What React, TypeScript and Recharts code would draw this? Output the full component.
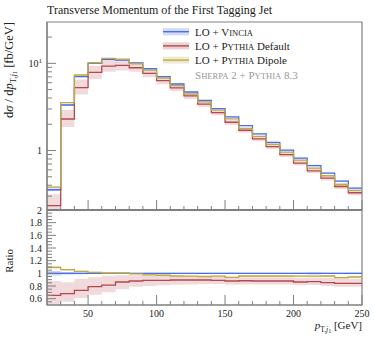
import { ComposedChart, Line, Area, XAxis, YAxis, ReferenceArea } from "recharts";

// bins of 10 GeV, lower edges; last bin closes at 250
const binLow = [20, 30, 40, 50, 60, 70, 80, 90, 100, 110, 120, 130, 140, 150, 160, 170, 180, 190, 200, 210, 220, 230, 240];
const xMax = 250;

// dσ/dpT [fb/GeV]
const vincia = [0.355, 3.33, 7.03, 10.0, 11.1, 10.9, 10.15, 8.67, 7.03, 5.8, 4.69, 3.77, 3.02, 2.43, 1.93, 1.55, 1.24, 1.01, 0.819, 0.673, 0.551, 0.447, 0.371];
const pythiaDefault = [0.233, 2.3, 5.26, 7.89, 9.3, 9.5, 8.9, 7.68, 6.32, 5.22, 4.23, 3.4, 2.72, 2.11, 1.71, 1.36, 1.11, 0.9, 0.718, 0.586, 0.483, 0.387, 0.328];
const pythiaDipole = [0.381, 3.54, 7.35, 10.16, 11.4, 11.2, 9.9, 8.38, 6.79, 5.54, 4.45, 3.61, 2.9, 2.31, 1.8, 1.45, 1.18, 0.959, 0.777, 0.629, 0.514, 0.408, 0.349];

// ratio to LO + Vincia
const defaultRatio = [0.652, 0.679, 0.731, 0.789, 0.815, 0.863, 0.879, 0.889, 0.889, 0.895, 0.895, 0.895, 0.889, 0.879, 0.883, 0.879, 0.879, 0.879, 0.863, 0.868, 0.852, 0.842, 0.842];
const dipoleRatio = [1.093, 1.057, 1.031, 1.015, 1.005, 1.005, 0.99, 0.975, 0.97, 0.958, 0.955, 0.95, 0.955, 0.935, 0.958, 0.958, 0.958, 0.958, 0.955, 0.955, 0.958, 0.931, 0.942];
const defaultBandLo = [0.51, 0.55, 0.61, 0.66, 0.7, 0.75, 0.79, 0.8, 0.81, 0.82, 0.825, 0.83, 0.83, 0.82, 0.825, 0.825, 0.825, 0.825, 0.81, 0.815, 0.8, 0.79, 0.79];
const defaultBandHi = [0.88, 0.86, 0.91, 0.94, 0.96, 0.97, 0.97, 0.965, 0.96, 0.955, 0.95, 0.95, 0.945, 0.94, 0.94, 0.94, 0.94, 0.94, 0.93, 0.935, 0.925, 0.92, 0.915];
const vinciaErr = [0.035, 0.02, 0.015, 0.012, 0.01, 0.01, 0.01, 0.01, 0.01, 0.01, 0.01, 0.01, 0.01, 0.012, 0.01, 0.01, 0.01, 0.01, 0.012, 0.018, 0.012, 0.012, 0.012];
const dipoleErr = [0.02, 0.015, 0.012, 0.01, 0.01, 0.01, 0.01, 0.01, 0.01, 0.01, 0.01, 0.01, 0.01, 0.01, 0.01, 0.01, 0.01, 0.01, 0.01, 0.01, 0.01, 0.015, 0.012];

const xTicks = [30, 40, 50, 60, 70, 80, 90, 100, 110, 120, 130, 140, 150, 160, 170, 180, 190, 200, 210, 220, 230, 240, 250];
const xTickLabels = [50, 100, 150, 200, 250];
const mainYTicks = [0.3, 0.4, 0.5, 0.6, 0.7, 0.8, 0.9, 1, 2, 3, 4, 5, 6, 7, 8, 9, 10, 20];
const ratioYTicks = Array.from({ length: 30 }, (_, i) => Math.round((0.55 + i * 0.05) * 100) / 100);
const ratioYLabels = [0.6, 0.8, 1, 1.2, 1.4, 1.6, 1.8, 2];

const FRAME = "#808080";
const BLUE = "#4a6cf0";
const RED = "#b5474e";
const YELLOW = "#bbac44";
const FONT = "'Liberation Serif', 'DejaVu Serif', serif";

const rows = [...binLow, xMax].map((x, j) => {
  const i = Math.min(j, binLow.length - 1);
  const defRel = pythiaDefault[i] / defaultRatio[i];
  return {
    x,
    vincia: vincia[i],
    vinciaBand: [vincia[i] * (1 - vinciaErr[i]), vincia[i] * (1 + vinciaErr[i])],
    def: pythiaDefault[i],
    defBand: [defRel * defaultBandLo[i], defRel * defaultBandHi[i]],
    dip: pythiaDipole[i],
    dipBand: [pythiaDipole[i] * (1 - dipoleErr[i]), pythiaDipole[i] * (1 + dipoleErr[i])],
    rVincia: 1,
    rVinciaBand: [1 - vinciaErr[i], 1 + vinciaErr[i]],
    rDef: defaultRatio[i],
    rDefBand: [defaultBandLo[i], defaultBandHi[i]],
    rDip: dipoleRatio[i],
    rDipBand: [dipoleRatio[i] * (1 - dipoleErr[i]), dipoleRatio[i] * (1 + dipoleErr[i])],
  };
});

const XTickMain = (props: any) => {
  const { x, y, payload } = props;
  const major = xTickLabels.includes(payload.value);
  return <line x1={x} x2={x} y1={y} y2={y - (major ? 10 : 4)} stroke={FRAME} strokeWidth={1} />;
};

const XTickRatio = (props: any) => {
  const { x, y, payload } = props;
  const major = xTickLabels.includes(payload.value);
  return (
    <g>
      <line x1={x} x2={x} y1={y} y2={y - (major ? 10 : 4)} stroke={FRAME} strokeWidth={1} />
      {major && (
        <text x={x} y={y + 12} textAnchor="middle" fontSize={10} fontFamily={FONT} fill="#222">
          {payload.value}
        </text>
      )}
    </g>
  );
};

const YTickMain = (props: any) => {
  const { x, y, payload } = props;
  const v = payload.value;
  const major = v === 1 || v === 10;
  return (
    <g>
      <line x1={x} x2={x + (major ? 9 : 5)} y1={y} y2={y} stroke={FRAME} strokeWidth={1} />
      {v === 1 && (
        <text x={x - 5} y={y + 3.5} textAnchor="end" fontSize={10} fontFamily={FONT} fill="#222">1</text>
      )}
      {v === 10 && (
        <text x={x - 5} y={y + 3.5} textAnchor="end" fontSize={10} fontFamily={FONT} fill="#222">
          10<tspan dy={-4} fontSize={7}>1</tspan>
        </text>
      )}
    </g>
  );
};

const YTickRatio = (props: any) => {
  const { x, y, payload } = props;
  const v = payload.value;
  const major = ratioYLabels.includes(v);
  return (
    <g>
      <line x1={x} x2={x + (major ? 9 : 5)} y1={y} y2={y} stroke={FRAME} strokeWidth={1} />
      {major && (
        <text x={x - 5} y={y + 3.5} textAnchor="end" fontSize={10} fontFamily={FONT} fill="#222">{v}</text>
      )}
    </g>
  );
};

function SmallCaps({ text }: { text: string }) {
  return (
    <>
      {text[0]}
      <tspan fontSize="0.78em">{text.slice(1).toUpperCase()}</tspan>
    </>
  );
}

export default function App() {
  const legend = [
    { color: BLUE, label: <>LO + <SmallCaps text="Vincia" /></> },
    { color: RED, label: <>LO + <SmallCaps text="Pythia" /> Default</> },
    { color: YELLOW, label: <>LO + <SmallCaps text="Pythia" /> Dipole</> },
  ];
  return (
    <div style={{ position: "absolute", left: 0, top: 0, width: 374, height: 337, background: "#fff" }}>
      <div style={{ position: "absolute", left: 0, top: 0 }}>
        <ComposedChart width={374} height={211} data={rows} margin={{ top: 22, right: 12, bottom: 0, left: 0 }}>
          <XAxis
            dataKey="x"
            type="number"
            domain={[20, 250]}
            allowDataOverflow
            ticks={xTicks}
            interval={0}
            height={1}
            tickSize={0}
            tickMargin={0}
            tick={<XTickMain />}
            axisLine={{ stroke: FRAME, strokeWidth: 2 }}
            tickLine={false}
          />
          <YAxis
            scale="log"
            type="number"
            domain={[0.208, 29.8]}
            allowDataOverflow
            ticks={mainYTicks}
            interval={0}
            width={47}
            tickSize={0}
            tickMargin={0}
            tick={<YTickMain />}
            axisLine={{ stroke: FRAME, strokeWidth: 1.2 }}
            tickLine={false}
          />
          <Area dataKey="vinciaBand" type="stepAfter" stroke="none" fill={BLUE} fillOpacity={0.3} isAnimationActive={false} />
          <Area dataKey="dipBand" type="stepAfter" stroke="none" fill={YELLOW} fillOpacity={0.3} isAnimationActive={false} />
          <Area dataKey="defBand" type="stepAfter" stroke="none" fill={RED} fillOpacity={0.2} isAnimationActive={false} />
          <Line dataKey="vincia" type="stepAfter" stroke={BLUE} strokeWidth={1.3} dot={false} isAnimationActive={false} />
          <Line dataKey="def" type="stepAfter" stroke={RED} strokeWidth={1.3} dot={false} isAnimationActive={false} />
          <Line dataKey="dip" type="stepAfter" stroke={YELLOW} strokeWidth={1.3} dot={false} isAnimationActive={false} />
          <ReferenceArea x1={20} x2={250} y1={0.208} y2={29.8} fill="none" stroke={FRAME} strokeWidth={1.2} ifOverflow="visible" />
        </ComposedChart>
      </div>
      <div style={{ position: "absolute", left: 0, top: 0 }}>
        <ComposedChart width={374} height={337} data={rows} margin={{ top: 210, right: 12, bottom: 0, left: 0 }}>
          <XAxis
            dataKey="x"
            type="number"
            domain={[20, 250]}
            allowDataOverflow
            ticks={xTicks}
            interval={0}
            height={32}
            tickSize={0}
            tickMargin={0}
            tick={<XTickRatio />}
            axisLine={{ stroke: FRAME, strokeWidth: 1.2 }}
            tickLine={false}
          />
          <YAxis
            type="number"
            domain={[0.5, 2]}
            allowDataOverflow
            ticks={ratioYTicks}
            interval={0}
            width={47}
            tickSize={0}
            tickMargin={0}
            tick={<YTickRatio />}
            axisLine={{ stroke: FRAME, strokeWidth: 1.2 }}
            tickLine={false}
          />
          <Area dataKey="rVinciaBand" type="stepAfter" stroke="none" fill={BLUE} fillOpacity={0.3} isAnimationActive={false} />
          <Area dataKey="rDipBand" type="stepAfter" stroke="none" fill={YELLOW} fillOpacity={0.3} isAnimationActive={false} />
          <Area dataKey="rDefBand" type="stepAfter" stroke="none" fill={RED} fillOpacity={0.2} isAnimationActive={false} />
          <Line dataKey="rVincia" type="stepAfter" stroke={BLUE} strokeWidth={1.3} dot={false} isAnimationActive={false} />
          <Line dataKey="rDef" type="stepAfter" stroke={RED} strokeWidth={1.3} dot={false} isAnimationActive={false} />
          <Line dataKey="rDip" type="stepAfter" stroke={YELLOW} strokeWidth={1.3} dot={false} isAnimationActive={false} />
          <ReferenceArea x1={20} x2={250} y1={0.5} y2={2} fill="none" stroke={FRAME} strokeWidth={1.2} ifOverflow="visible" />
        </ComposedChart>
      </div>
      <svg width={374} height={337} style={{ position: "absolute", left: 0, top: 0, pointerEvents: "none" }} fontFamily={FONT}>
        <text x={47} y={13.5} fontSize={12} fill="#222">Transverse Momentum of the First Tagging Jet</text>
        <text transform="rotate(-90)" x={-22} y={13} textAnchor="end" fontSize={12.5} fill="#222">
          d<tspan fontStyle="italic">σ</tspan> / d<tspan fontStyle="italic">p</tspan>
          <tspan fontSize={8.5} dy={2.5}>T,<tspan fontStyle="italic">j</tspan></tspan>
          <tspan fontSize={6.5} dy={1.5}>1</tspan>
          <tspan dy={-4}> [fb/GeV]</tspan>
        </text>
        <text transform="rotate(-90)" x={-249} y={13} textAnchor="end" fontSize={11} fill="#222">Ratio</text>
        <text x={362} y={329} textAnchor="end" fontSize={11} fill="#222">
          <tspan fontStyle="italic">p</tspan>
          <tspan fontSize={7.5} dy={2.5}>T,<tspan fontStyle="italic">j</tspan></tspan>
          <tspan fontSize={6} dy={1.5}>1</tspan>
          <tspan dy={-4}> [GeV]</tspan>
        </text>
        {legend.map((l, i) => {
          const cy = 31.7 + i * 14.2;
          return (
            <g key={i}>
              <rect x={163} y={cy - 3.5} width={26} height={7} fill={l.color} fillOpacity={0.25} />
              <line x1={163} x2={189} y1={cy} y2={cy} stroke={l.color} strokeWidth={1.4} />
              <text x={195} y={cy + 4} fontSize={11} fill="#222">{l.label}</text>
            </g>
          );
        })}
        <text x={195} y={78.5} fontSize={11} fill="#999">
          <SmallCaps text="Sherpa" /> 2 + <SmallCaps text="Pythia" /> 8.3
        </text>
      </svg>
    </div>
  );
}
